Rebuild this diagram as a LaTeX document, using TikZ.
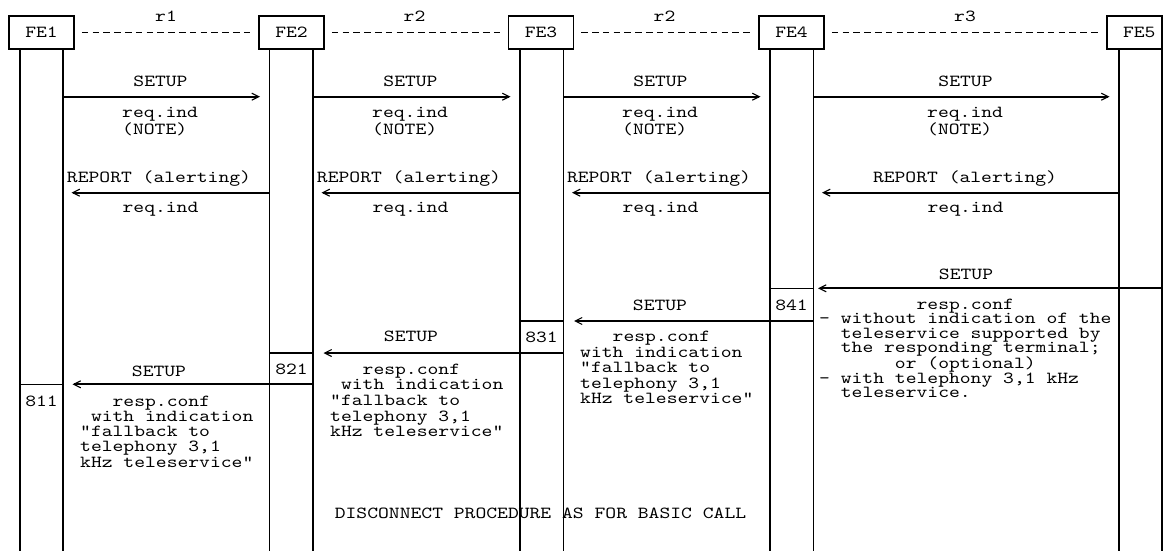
\documentclass[tikz,border=0pt]{standalone}
\usepackage{fontspec}
\newfontfamily\msgfont[FakeStretch=1.22]{lmmono10-regular.otf}
\usetikzlibrary{arrows.meta}
\tikzset{
  txt/.style={font=\msgfont\fontsize{16.9}{15.5}\selectfont, inner sep=0pt, anchor=base},
  % multi-line text; placed by the baseline of its last line
  block/.style={font=\msgfont\fontsize{16.9}{#1}\selectfont, inner sep=0pt, align=left, anchor=base west},
  febox/.style={draw, line width=1.5pt, minimum width=65pt, minimum height=33pt, inner sep=0pt,
    font=\msgfont\fontsize{16.9}{15.5}\selectfont},
  lifeline/.style={line width=1.8pt},
  iface/.style={line width=1.2pt, dash pattern=on 6.6pt off 4.2pt, shorten <=7pt, shorten >=7pt},
  msg/.style={line width=1.8pt, -{Straight Barb[length=7pt,width=7pt,line width=1.1pt,sep=2.5pt]}},
  seg/.style={line width=1.5pt},
}
\begin{document}
\begin{tikzpicture}[x=1pt,y=-1pt]
\useasboundingbox (0,0) rectangle (1174,551);

% functional entities
\node[febox] (fe1) at (41.5,32.5) {FE1};
\node[febox] (fe2) at (291.5,32.5) {FE2};
\node[febox] (fe3) at (541,32.5) {FE3};
\node[febox] (fe4) at (791.5,32.5) {FE4};
\node[febox, minimum width=55pt] (fe5) at (1134.5,32.5) {};
\node[txt, anchor=center] (fe5name) at (1139.3,32.5) {FE5};

% relationships between entities
\draw[iface] (fe1) -- (fe2);
\draw[iface] (fe2) -- (fe3);
\draw[iface] (fe3) -- (fe4);
\draw[iface] (fe4) -- (fe5);
\node[txt] (r1) at (166,21.7) {r1};
\node[txt] (r2a) at (414.5,21.7) {r2};
\node[txt] (r2b) at (664.5,21.7) {r2};
\node[txt] (r3) at (965,21.7) {r3};

% lifelines
\foreach \n/\l/\r in {1/20/63, 2/269.5/313, 3/520/563.5, 4/770/813.5, 5/1119/1162} {
  \coordinate (c\n L) at (\l,49);
  \coordinate (c\n R) at (\r,49);
  \draw[lifeline] (c\n L) -- ++(0,502);
  \draw[lifeline] (c\n R) -- ++(0,502);
}

% message levels
\coordinate (y1) at (0,96.7);
\coordinate (y2) at (0,192.7);
\coordinate (y3) at (0,288.3);
\coordinate (y4) at (0,321);
\coordinate (y5) at (0,353);
\coordinate (y6) at (0,384.3);

% SETUP req.ind
\foreach \a/\b in {1/2, 2/3, 3/4, 4/5}
  \draw[msg, shorten >=7pt] (c\a R |- y1) -- (c\b L |- y1);
\node[txt] (s1) at (160.5,86) {SETUP};
\node[txt] (s2) at (410.5,86) {SETUP};
\node[txt] (s3) at (660.5,86) {SETUP};
\node[txt] (s4) at (965.5,86) {SETUP};
\node[block=16.5] (q1) at (122,134) {req.ind\\(NOTE)};
\node[block=16.5] (q2) at (372,134) {req.ind\\(NOTE)};
\node[block=16.5] (q3) at (622,134) {req.ind\\(NOTE)};
\node[block=16.5] (q4) at (927,134) {req.ind\\(NOTE)};

% REPORT (alerting) req.ind
\foreach \a/\b in {2/1, 3/2, 4/3, 5/4}
  \draw[msg, shorten >=6pt] (c\a L |- y2) -- (c\b R |- y2);
\node[txt] (p1) at (159,182.5) {REPORT (alerting)};
\node[txt] (p2) at (409,182.5) {REPORT (alerting)};
\node[txt] (p3) at (659,182.5) {REPORT (alerting)};
\node[txt] (p4) at (965,182.5) {REPORT (alerting)};
\node[txt] (pi1) at (160.5,212.5) {req.ind};
\node[txt] (pi2) at (410.5,212.5) {req.ind};
\node[txt] (pi3) at (660.5,212.5) {req.ind};
\node[txt] (pi4) at (965.5,212.5) {req.ind};

% SETUP resp.conf, back towards the originating side
\draw[msg, shorten >=2pt] (c5R |- y3) -- (c4R |- y3);
\draw[msg, shorten >=8pt] (c4R |- y4) -- (c3R |- y4);
\draw[msg, shorten >=8pt] (c3R |- y5) -- (c2R |- y5);
\draw[msg, shorten >=7pt] (c2R |- y6) -- (c1R |- y6);
\draw[seg] (c4L |- y3) -- (c4R |- y3);
\draw[seg] (c3L |- y4) -- (c3R |- y4);
\draw[seg] (c2L |- y5) -- (c2R |- y5);
\draw[seg] (c1L |- y6) -- (c1R |- y6);

\node[txt] (u4) at (966,279.3) {SETUP};
\node[txt] (u3) at (660,310.7) {SETUP};
\node[txt] (u2) at (411,341.7) {SETUP};
\node[txt] (u1) at (159,376) {SETUP};

\node[txt] (n841) at (791.5,310) {841};
\node[txt] (n831) at (541.5,342) {831};
\node[txt] (n821) at (291.5,374) {821};
\node[txt] (n811) at (41.5,406) {811};

\node[block=14.3] (rc4) at (819,397.5) {\hphantom{xxxxxxxxx}resp.conf\\
- without indication of the\\
\hphantom{xx}teleservice supported by\\
\hphantom{xx}the responding terminal;\\
\hphantom{xxxxxxx}or (optional)\\
- with telephony 3,1 kHz\\
\hphantom{xx}teleservice.};
\node[block=15.5] (rc3) at (580,403.7) {\hphantom{xxx}resp.conf\\
with indication\\
"fallback to\\
telephony 3,1\\
kHz teleservice"};
\node[block=15.6] (rc2) at (330,436.7) {\hphantom{xxx}resp.conf\\
\hphantom{x}with indication\\
"fallback to\\
telephony 3,1\\
kHz teleservice"};
\node[block=15.3] (rc1) at (80,467.2) {\hphantom{xxx}resp.conf\\
\hphantom{x}with indication\\
"fallback to\\
telephony 3,1\\
kHz teleservice"};

\node[txt] (disc) at (540.5,518) {DISCONNECT PROCEDURE AS FOR BASIC CALL};
\end{tikzpicture}
\end{document}
